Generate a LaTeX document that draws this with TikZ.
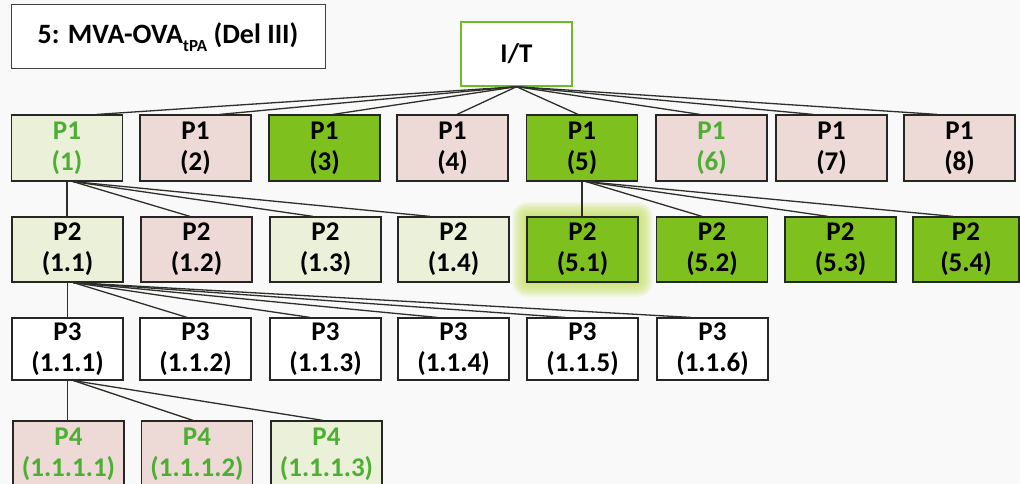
\documentclass[tikz,border=0pt]{standalone}
\usepackage{fontspec}
\setmainfont{Carlito}
\usetikzlibrary{calc}

\definecolor{pagebg}{HTML}{F9F9F9}
\definecolor{palegreen}{HTML}{EBF0D8}
\definecolor{rosefill}{HTML}{EDD9D5}
\definecolor{vividgreen}{HTML}{7EC11F}
\definecolor{textgreen}{HTML}{4CAE32}
\definecolor{framegreen}{HTML}{6DBB26}
\definecolor{glowgreen}{HTML}{C6E25E}
\definecolor{linkgray}{HTML}{2E2E2A}

\tikzset{
  box/.style={draw=black!85, line width=1.2pt, minimum width=111pt,
    minimum height=66pt, align=center, inner sep=0pt,
    font=\bfseries\fontsize{27}{31}\selectfont},
  pale/.style={box, fill=palegreen},
  rose/.style={box, fill=rosefill},
  vivid/.style={box, fill=vividgreen},
  plain/.style={box, fill=white, minimum height=62pt},
  gtext/.style={text=textgreen},
  link/.style={draw=linkgray, line width=1.3pt},
}

\begin{document}
\begin{tikzpicture}[x=1pt, y=-1pt]
\clip (0,0) rectangle (1020,484);
\fill[pagebg] (0,0) rectangle (1020,484);

% heading
\node[draw=black!75, line width=1pt, minimum width=314pt, minimum height=64pt,
  fill=white, font=\bfseries\fontsize{28}{32}\selectfont] (title) at (168,37)
  {5: MVA-OVA\raisebox{-0.28em}{\fontsize{17}{17}\selectfont tPA} (Del III)};

% root
\node[box, draw=framegreen, line width=1.4pt, fill=white, minimum height=64pt] (it) at (516.5,54) {I/T};

% level P1
\node[pale, gtext] (a1) at (67,148)   {P1\\(1)};
\node[rose]        (a2) at (195.5,148) {P1\\(2)};
\node[vivid]       (a3) at (324.5,148) {P1\\(3)};
\node[rose]        (a4) at (452.5,148) {P1\\(4)};
\node[vivid]       (a5) at (582,148)   {P1\\(5)};
\node[rose, gtext] (a6) at (711.5,148) {P1\\(6)};
\node[rose]        (a7) at (831.5,148) {P1\\(7)};
\node[rose]        (a8) at (959.5,148) {P1\\(8)};

% halo behind 5.1
\foreach \r in {1,...,15}
  \fill[glowgreen, opacity=0.09, rounded corners=\r pt]
    (527-\r, 217-\r) rectangle (638+\r, 282+\r);

% level P2
\node[pale, minimum height=65pt]  (b1) at (67.5,249.5)  {P2\\(1.1)};
\node[rose, minimum height=65pt]  (b2) at (196.5,249.5) {P2\\(1.2)};
\node[pale, minimum height=65pt]  (b3) at (325.5,249.5) {P2\\(1.3)};
\node[pale, minimum height=65pt]  (b4) at (453.5,249.5) {P2\\(1.4)};
\node[vivid, minimum height=65pt] (b5) at (582.5,249.5) {P2\\(5.1)};
\node[vivid, minimum height=65pt] (b6) at (712,249.5)   {P2\\(5.2)};
\node[vivid, minimum height=65pt] (b7) at (840.5,249.5) {P2\\(5.3)};
\node[vivid, minimum height=65pt, minimum width=106pt] (b8) at (966,249.5) {P2\\(5.4)};

% level P3
\node[plain] (c1) at (67.5,349)  {P3\\(1.1.1)};
\node[plain] (c2) at (195.5,349) {P3\\(1.1.2)};
\node[plain] (c3) at (325.5,349) {P3\\(1.1.3)};
\node[plain] (c4) at (453.5,349) {P3\\(1.1.4)};
\node[plain] (c5) at (582.5,349) {P3\\(1.1.5)};
\node[plain] (c6) at (712.5,349) {P3\\(1.1.6)};

% level P4
\node[rose, gtext] (d1) at (68.5,454)  {P4\\(1.1.1.1)};
\node[rose, gtext] (d2) at (197,454)   {P4\\(1.1.1.2)};
\node[pale, gtext] (d3) at (326.5,454) {P4\\(1.1.1.3)};

% connectors I/T -> P1
\draw[link] (it.south) -- ([xshift=30pt]a1.north);
\draw[link] (it.south) -- ([xshift=24.5pt]a2.north);
\draw[link] (it.south) -- ([xshift=8.5pt]a3.north);
\draw[link] (it.south) -- ([xshift=4.5pt]a4.north);
\draw[link] (it.south) -- ([xshift=-4pt]a5.north);
\draw[link] (it.south) -- ([xshift=-11.5pt]a6.north);
\draw[link] (it.south) -- ([xshift=-18.5pt]a7.north);
\draw[link] (it.south) -- ([xshift=-22.5pt]a8.north);

% P1(1) -> P2
\draw[link] (a1.south) -- (b1.north -| a1.south);
\draw[link] ([xshift=6pt]a1.south) -- ([xshift=-6.5pt]b2.north);
\draw[link] ([xshift=6pt]a1.south) -- ([xshift=-12.5pt]b3.north);
\draw[link] ([xshift=6pt]a1.south) -- ([xshift=-23.5pt]b4.north);

% P1(5) -> P2
\draw[link] (a5.south) -- (b5.north -| a5.south);
\draw[link] ([xshift=4pt]a5.south) -- ([xshift=-10pt]b6.north);
\draw[link] ([xshift=4pt]a5.south) -- ([xshift=-12.5pt]b7.north);
\draw[link] ([xshift=4pt]a5.south) -- ([xshift=-13pt]b8.north);

% P2(1.1) -> P3
\draw[link] (b1.south) -- (c1.north -| b1.south);
\draw[link] ([xshift=6pt]b1.south) -- ([xshift=-8.5pt]c2.north);
\draw[link] ([xshift=6pt]b1.south) -- ([xshift=-15.5pt]c3.north);
\draw[link] ([xshift=6pt]b1.south) -- ([xshift=-16.5pt]c4.north);
\draw[link] ([xshift=6pt]b1.south) -- ([xshift=-17.5pt]c5.north);
\draw[link] ([xshift=6pt]b1.south) -- ([xshift=-22pt]c6.north);

% P3(1.1.1) -> P4
\draw[link] (c1.south) -- (d1.north -| c1.south);
\draw[link] ([xshift=6pt]c1.south) -- ([xshift=-4pt]d2.north);
\draw[link] ([xshift=6pt]c1.south) -- ([xshift=-3.5pt]d3.north);
\end{tikzpicture}
\end{document}
